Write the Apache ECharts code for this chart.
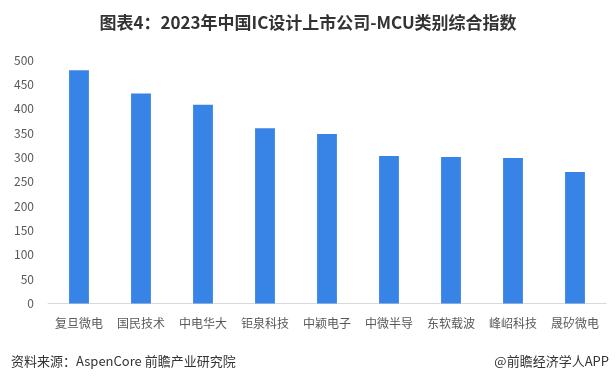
<!DOCTYPE html>
<html>
<head>
<meta charset="utf-8">
<script type="text/javascript" src="https://cdn.jsdelivr.net/npm/echarts@6/dist/echarts.min.js"></script>
<style type="text/css">
    * { margin: 0; padding: 0; }
    body { background: #fff; }
    #container { width: 616px; height: 382px; }
</style>
</head>
<body>
<div id="container"></div>
<script type="text/javascript">
var companies = ['复旦微电', '国民技术', '中电华大', '钜泉科技', '中颖电子', '中微半导', '东软载波', '峰岹科技', '晟矽微电'];
var indexValues = [479, 431, 408, 360, 348, 303, 301, 299, 270];
var yTicks = [0, 50, 100, 150, 200, 250, 300, 350, 400, 450, 500];

var chart = echarts.init(document.getElementById('container'));
var fontFamily = '"Microsoft YaHei", "Noto Sans CJK SC", sans-serif';

var option = {
    animation: false,
    textStyle: { fontFamily: fontFamily },
    title: [
        {
            text: '图表4：2023年中国IC设计上市公司-MCU类别综合指数',
            left: 'center',
            top: 9,
            textStyle: { fontSize: 17, fontWeight: 'bold', color: '#333', fontFamily: fontFamily }
        },
        {
            text: '资料来源：AspenCore 前瞻产业研究院',
            left: 6,
            top: 350,
            textStyle: { fontSize: 13, fontWeight: 'normal', color: '#333', fontFamily: fontFamily }
        },
        {
            text: '@前瞻经济学人APP',
            right: 2,
            top: 350,
            textStyle: { fontSize: 13, fontWeight: 'normal', color: '#333', fontFamily: fontFamily }
        }
    ],
    grid: { left: 48, right: 10, top: 60, bottom: 78.5, containLabel: false },
    xAxis: {
        type: 'category',
        data: companies,
        axisLine: { show: true, lineStyle: { color: '#d9d9d9' } },
        axisTick: { show: false },
        axisLabel: { color: '#595959', fontSize: 12, margin: 14, interval: 0 }
    },
    yAxis: {
        type: 'value',
        min: yTicks[0],
        max: yTicks[yTicks.length - 1],
        interval: 50,
        axisLine: { show: false },
        axisTick: { show: false },
        splitLine: { show: false },
        axisLabel: { color: '#595959', fontSize: 12, margin: 14 }
    },
    series: [{
        type: 'bar',
        data: indexValues,
        barWidth: '32%',
        itemStyle: { color: '#3784e6' }
    }]
};
chart.setOption(option);
</script>
</body>
</html>
